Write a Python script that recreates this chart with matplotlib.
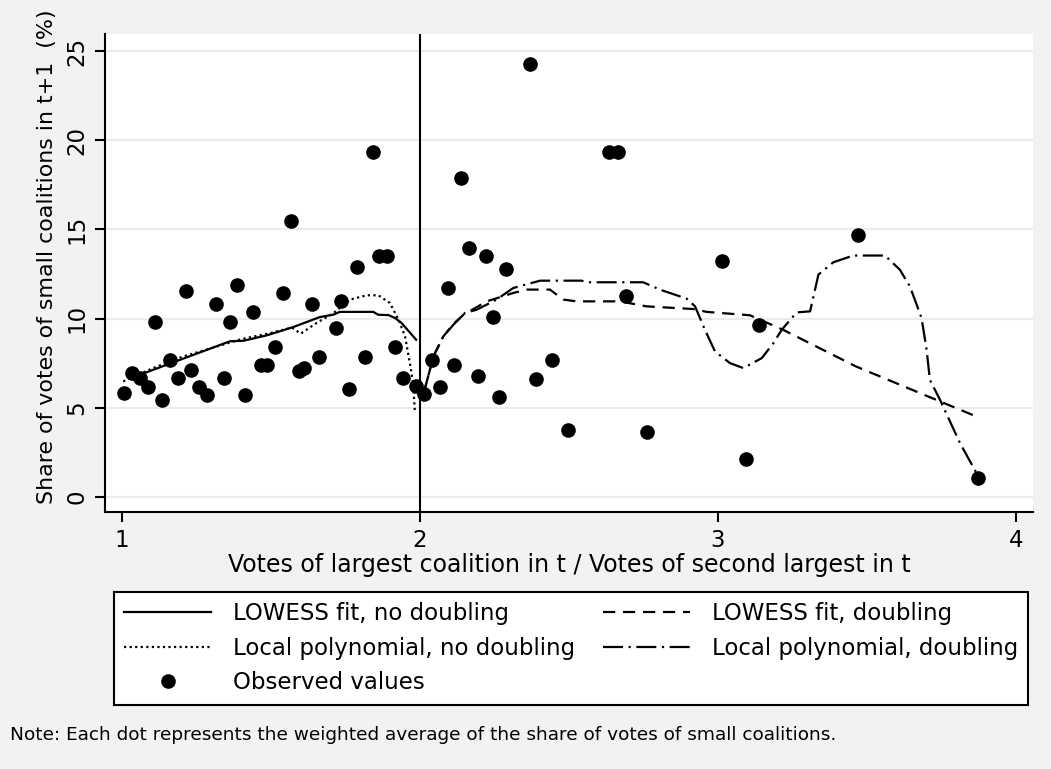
import matplotlib
matplotlib.use("Agg")
import matplotlib.pyplot as plt

# observed values (weighted averages)
obs_x = [1.007, 1.035, 1.06, 1.088, 1.11, 1.133, 1.16, 1.187, 1.214, 1.232,
         1.258, 1.285, 1.315, 1.342, 1.361, 1.387, 1.413, 1.44, 1.466, 1.486,
         1.512, 1.539, 1.566, 1.594, 1.612, 1.638, 1.66, 1.719, 1.736, 1.763,
         1.79, 1.817, 1.843, 1.861, 1.888, 1.915, 1.942, 1.985, 2.014, 2.041,
         2.068, 2.095, 2.113, 2.138, 2.165, 2.193, 2.22, 2.246, 2.264, 2.29,
         2.369, 2.39, 2.443, 2.497, 2.635, 2.663, 2.69, 2.762, 3.012, 3.094,
         3.138, 3.469, 3.871]
obs_y = [5.86, 6.93, 6.67, 6.18, 9.79, 5.43, 7.68, 6.65, 11.57, 7.1,
         6.18, 5.73, 10.83, 6.65, 9.79, 11.87, 5.73, 10.38, 7.38, 7.38,
         8.43, 11.42, 15.47, 7.08, 7.23, 10.83, 7.83, 9.48, 10.97, 6.03,
         12.92, 7.83, 19.36, 13.52, 13.52, 8.43, 6.65, 6.2, 5.75, 7.68,
         6.18, 11.72, 7.38, 17.87, 13.97, 6.78, 13.52, 10.07, 5.58, 12.77,
         24.29, 6.63, 7.68, 3.78, 19.34, 19.34, 11.27, 3.63, 13.22, 2.13,
         9.62, 14.7, 1.05]

# LOWESS fit, no doubling
lowess_nd_x = [1.035, 1.362, 1.407, 1.485, 1.575, 1.664, 1.709, 1.731, 1.843,
               1.86, 1.894, 1.916, 1.938, 1.987]
lowess_nd_y = [6.7, 8.73, 8.76, 9.06, 9.53, 10.09, 10.22, 10.38, 10.38,
               10.22, 10.2, 10.04, 9.76, 8.82]

# Local polynomial, no doubling
poly_nd_x = [1.004, 1.1, 1.2, 1.3, 1.4, 1.5, 1.57, 1.6, 1.653, 1.709, 1.765,
             1.821, 1.86, 1.899, 1.928, 1.95, 1.966, 1.977, 1.983]
poly_nd_y = [6.48, 7.2, 7.85, 8.35, 8.85, 9.2, 9.5, 9.16, 9.76, 10.3, 11.07,
             11.31, 11.31, 10.88, 9.94, 9.0, 7.51, 6.39, 4.7]

# LOWESS fit, doubling
lowess_d_x = [2.011, 2.045, 2.078, 2.112, 2.146, 2.224, 2.313, 2.358, 2.436,
              2.481, 2.525, 2.671, 2.76, 2.917, 2.962, 3.107, 3.218, 3.463,
              3.745, 3.862]
lowess_d_y = [5.73, 7.88, 9.0, 9.7, 10.22, 10.97, 11.44, 11.63, 11.63,
              11.07, 10.97, 10.97, 10.69, 10.54, 10.38, 10.19, 9.38, 7.32,
              5.36, 4.55]

# Local polynomial, doubling
poly_d_x = [2.011, 2.045, 2.078, 2.112, 2.151, 2.19, 2.257, 2.313, 2.403,
            2.542, 2.564, 2.749, 2.805, 2.895, 2.923, 2.956, 2.99, 3.04,
            3.085, 3.147, 3.186, 3.214, 3.264, 3.309, 3.337, 3.387, 3.454,
            3.56, 3.61, 3.644, 3.683, 3.7, 3.711, 3.745, 3.812, 3.868]
poly_d_y = [5.73, 7.88, 9.0, 9.66, 10.32, 10.5, 11.07, 11.72, 12.13,
            12.13, 12.04, 12.04, 11.63, 11.12, 10.69, 9.38, 8.16, 7.51,
            7.23, 7.79, 8.63, 9.38, 10.35, 10.41, 12.47, 13.16, 13.54,
            13.54, 12.75, 11.81, 10.04, 8.26, 6.57, 5.45, 3.02, 1.33]

xticks = [1, 2, 3, 4]
yticks = [0, 5, 10, 15, 20, 25]

plt.rcParams['font.family'] = ['DejaVu Sans']

fig = plt.figure(figsize=(10.51, 7.69), dpi=100, facecolor='#f2f2f2')
W, H = 1051, 769
ax = fig.add_axes([105 / W, 1 - 512 / H, (1033 - 105) / W, (512 - 34) / H])
ax.set_facecolor('white')

ax.set_xlim(0.943, 4.057)
ax.set_ylim(-0.84, 25.96)

for s in ['top', 'right']:
    ax.spines[s].set_visible(False)
for s in ['left', 'bottom']:
    ax.spines[s].set_linewidth(1.5)

ax.set_yticks(yticks)
ax.set_xticks(xticks)
ax.yaxis.grid(True, color='#ebebeb', linewidth=1.5)
ax.set_axisbelow(True)
ax.tick_params(length=7, width=1.5, labelsize=16.5, color='black', pad=5)
plt.setp(ax.get_yticklabels(), rotation=90, va='center')

ax.axvline(2, color='black', linewidth=1.5)

lw = 1.6
l1, = ax.plot(lowess_nd_x, lowess_nd_y, color='black', linewidth=lw,
              label='LOWESS fit, no doubling')
l2, = ax.plot(lowess_d_x, lowess_d_y, color='black', linewidth=lw,
              linestyle=(0, (5.5, 3.5)), label='LOWESS fit, doubling')
l3, = ax.plot(poly_nd_x, poly_nd_y, color='black', linewidth=lw,
              linestyle=(0, (1, 1.5)), label='Local polynomial, no doubling')
l4, = ax.plot(poly_d_x, poly_d_y, color='black', linewidth=lw,
              linestyle=(0, (9, 2.5, 1, 2.5)), label='Local polynomial, doubling')
l5, = ax.plot(obs_x, obs_y, linestyle='none', marker='o', markersize=9.5,
              color='black', label='Observed values')

ax.set_xlabel('Votes of largest coalition in t / Votes of second largest in t',
              fontsize=17, labelpad=1)
ax.set_ylabel('Share of votes of small coalitions in t+1  (%)', fontsize=15.9)
ax.yaxis.set_label_coords(-0.052, 0.535)

leg = fig.legend([l1, l3, l5, l2, l4],
                 [l1.get_label(), l3.get_label(), l5.get_label(),
                  l2.get_label(), l4.get_label()],
                 ncol=2, loc='upper left',
                 bbox_to_anchor=(114 / W, 1 - 592 / H),
                 borderaxespad=0, fontsize=16.5, handlelength=3.8,
                 fancybox=False, frameon=True, borderpad=0.45,
                 labelspacing=0.5, columnspacing=1.2, handletextpad=0.95)
leg.get_frame().set_edgecolor('black')
leg.get_frame().set_linewidth(1.5)
leg.get_frame().set_facecolor('white')
leg.get_frame().set_alpha(1)

fig.text(10 / W, 1 - 735 / H,
         'Note: Each dot represents the weighted average of the share of votes of small coalitions.',
         fontsize=13.3, va='center', ha='left')

fig.savefig('out.png', dpi=100, facecolor=fig.get_facecolor())
